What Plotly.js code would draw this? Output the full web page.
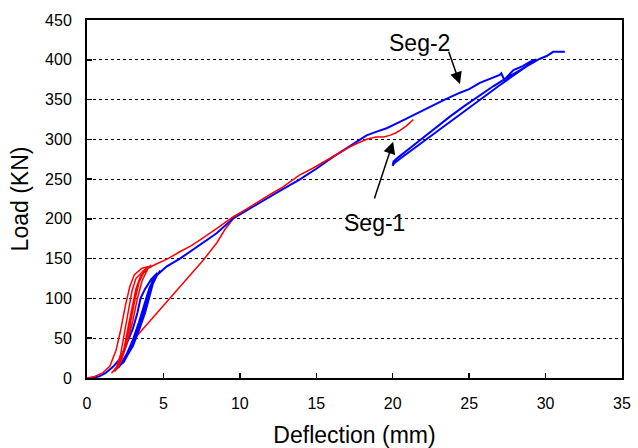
<!DOCTYPE html>
<html>
<head>
<meta charset="utf-8">
<script src="https://cdn.plot.ly/plotly-3.0.1.min.js"></script>
<style>html,body{margin:0;padding:0;background:#fff;}#chart{width:638px;height:448px;}</style>
</head>
<body>
<div id="chart"></div>
<script>
// Seg-1 (red): cyclic loops then envelope
var redX = [0,0.5,1.0,1.5,1.9,2.2,2.5,2.8,3.1,3.6,4.0, 3.8,3.4,3.1,2.8,2.4,2.0,1.6, 1.9,2.2,2.5,2.75,2.95,3.2,3.7,4.2, 4.0,3.6,3.3,3.0,2.6,2.2,1.8, 2.1,2.4,2.7,3.0,3.2,3.5,4.0,4.5, 5.3,6.1,6.8,7.4,8.0,8.5,9.0,9.6,10.4,11.2,12.0,12.8,13.9,14.8,15.7,16.5,17.2,17.8,18.3,18.9,19.4,19.8,20.2,20.5,20.9,21.35];
var redY = [0,2,6,15,35,60,90,115,130,138,140, 136,120,95,65,35,15,6, 12,30,60,90,110,125,135,142, 138,122,100,72,42,20,8, 15,35,65,95,112,128,138,143, 150,159,166,173.5,181,188,195,203,212,222,231,240,255,264,274,283,290.7,296,300,303,303,305,308,311.7,317,325];
// Seg-1 (red) reloading line
var redLineX = [2.9,4.5,6.0,7.6,8.5,9.0,9.6];
var redLineY = [45,80,113,148,170,186,201];
// Seg-2 (blue)
var blueX = [0.3,0.8,1.2,1.7,2.2,2.6,3.0,3.3,3.5,3.8,4.2,4.6, 4.4,4.15,4.0,3.7,3.3,2.9,2.4,1.8, 2.1,2.6,3.0,3.4,3.8,4.0,4.3,4.8, 4.6,4.3,4.1,3.8,3.4,3.0,2.5,2.0, 2.4,2.8,3.2,3.6,3.9,4.1,4.5,5.2,6.08,7.39,8.48,9.57,11.2,12.5,13.93,15.0,16.1,17.2,18.29,19.0,19.6,20.47,21.1,21.78,22.5,23.3,24.4,25.0,25.7,26.4,27.0,27.1,27.3,27.9,28.5,29.0,29.4, 27.0,24.0,21.5,20.5,20.1,20.0,20.05,20.4,21.2,22.2,23.0,23.74,24.7,25.7,26.6,27.4,28.3,29.0,29.6,30.07,30.5,30.9,31.26];
var blueY = [0,2,6,14,25,43,62,82,100,112,124,132, 128,115,100,80,58,38,20,10, 14,30,48,70,95,108,122,135, 130,118,102,82,60,40,24,14, 22,38,58,82,102,114,128,140,150,167,182,200.7,219.5,234,249.6,263,278,292,305,310,314,322,328,334.7,342,349,358.6,363,371,376,381,383,375,387,392,397.6,400.5, 368,326,290,276,270,267,272,278,290,305,318,328.5,342,355.7,367,376.7,387,395,401,404.7,410,410,410];
var yTicks = [0,50,100,150,200,250,300,350,400,450];
var xTicks = [0,5,10,15,20,25,30,35];
var labels = ["Seg-1","Seg-2"];

var font = "Liberation Sans, Arial, sans-serif";
var traces = [
  {x: redLineX, y: redLineY, mode: "lines", line: {color: "#ff0000", width: 1.5}, hoverinfo: "skip"},
  {x: blueX, y: blueY, mode: "lines", line: {color: "#0000ff", width: 2}, hoverinfo: "skip"},
  {x: redX, y: redY, mode: "lines", line: {color: "#ff0000", width: 1.5}, hoverinfo: "skip"}
];
var layout = {
  width: 638, height: 448,
  margin: {l: 87, r: 16, t: 20, b: 70},
  paper_bgcolor: "#fff", plot_bgcolor: "#fff",
  showlegend: false,
  font: {family: font, color: "#000"},
  xaxis: {
    range: [0, 35], tickvals: xTicks, ticktext: xTicks.map(String),
    showgrid: false, zeroline: false,
    showline: true, linecolor: "#000", linewidth: 2, mirror: true,
    ticks: "inside", ticklen: 5, tickwidth: 1.5, tickcolor: "#000",
    tickfont: {size: 16, family: font, color: "#000"},
    ticklabelstandoff: 10,
    title: {text: "Deflection (mm)", font: {size: 23, family: font, color: "#000"}, standoff: 16}
  },
  yaxis: {
    range: [0, 450], tickvals: yTicks, ticktext: yTicks.map(String),
    showgrid: true, gridcolor: "#000", gridwidth: 1, griddash: "dot",
    zeroline: false,
    showline: true, linecolor: "#000", linewidth: 2, mirror: true,
    ticks: "inside", ticklen: 5, tickwidth: 1.5, tickcolor: "#000",
    tickfont: {size: 16, family: font, color: "#000"},
    ticklabelstandoff: 10,
    title: {text: "Load (KN)", font: {size: 23, family: font, color: "#000"}, standoff: 10}
  },
  annotations: [
    {x: 20.03, y: 297, ax: 18.77, ay: 223.7, xref: "x", yref: "y", axref: "x", ayref: "y",
     text: "", showarrow: true, arrowhead: 2, arrowsize: 1.6, arrowwidth: 1.5, arrowcolor: "#000"},
    {x: 24.4, y: 369.5, ax: 23.63, ay: 412, xref: "x", yref: "y", axref: "x", ayref: "y",
     text: "", showarrow: true, arrowhead: 2, arrowsize: 1.6, arrowwidth: 1.5, arrowcolor: "#000"},
    {x: 18.84, y: 194.4, xref: "x", yref: "y", text: labels[0], showarrow: false,
     font: {size: 23, family: font, color: "#000"}},
    {x: 21.78, y: 420.7, xref: "x", yref: "y", text: labels[1], showarrow: false,
     font: {size: 23, family: font, color: "#000"}}
  ]
};
Plotly.newPlot("chart", traces, layout, {displayModeBar: false, staticPlot: true});
</script>
</body>
</html>
